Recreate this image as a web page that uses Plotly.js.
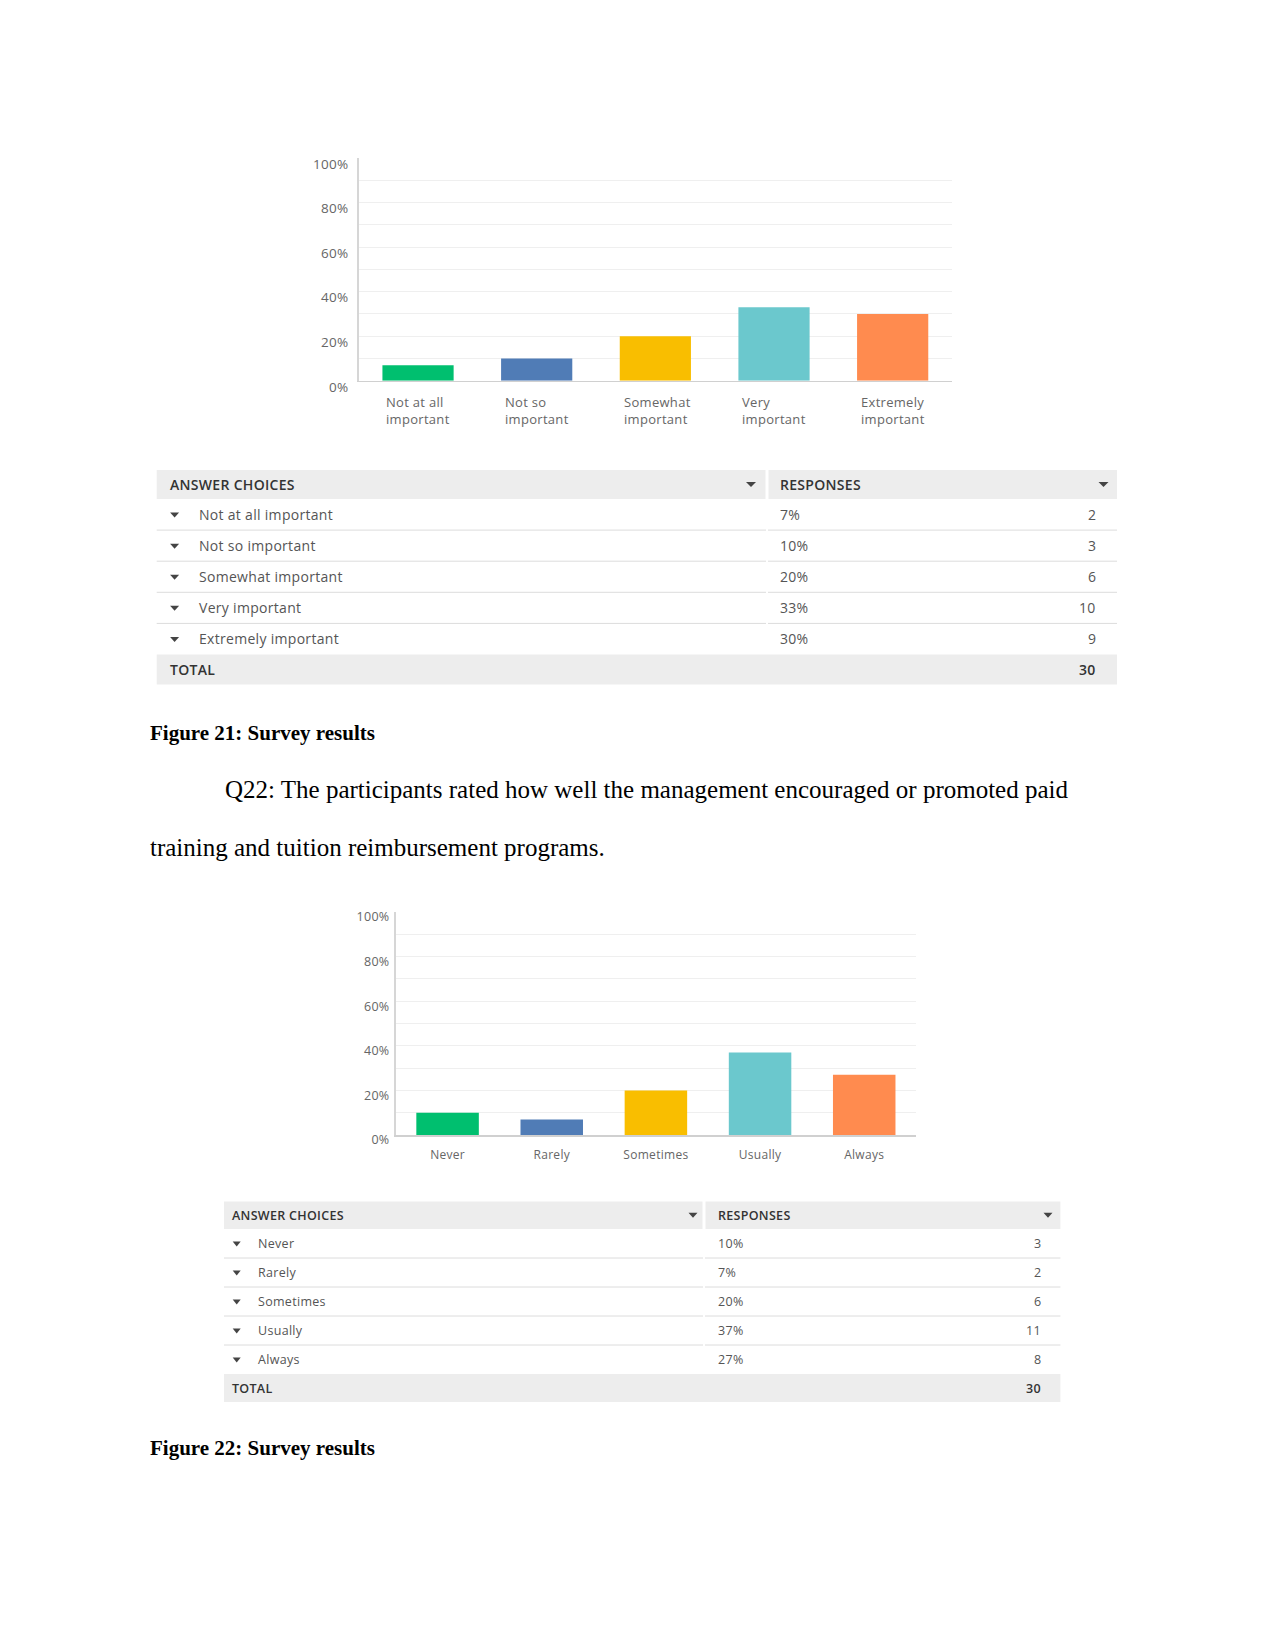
<!DOCTYPE html>
<html><head><meta charset="utf-8">
<script src="https://cdn.plot.ly/plotly-3.0.1.min.js"></script>
<style>
html,body{margin:0;padding:0;background:#fff;}
#page{width:1275px;height:1650px;}
text[style*="Open Sans"]{letter-spacing:0.3px;}
</style>
</head><body><div id="page"></div>
<script>
// ---------- data ----------
const categories1 = ['Not at all important','Not so important','Somewhat important','Very important','Extremely important'];
const percents1 = [7, 10, 20, 33, 30];
const counts1 = [2, 3, 6, 10, 9];
const total1 = 30;

const categories2 = ['Never','Rarely','Sometimes','Usually','Always'];
const percents2 = [10, 7, 20, 37, 27];
const counts2 = [3, 2, 6, 11, 8];
const total2 = 30;

const barColors = ['#00bf6f','#507cb6','#f9be00','#6bc8cd','#ff8b4f'];
const yTickVals = [0,10,20,30,40,50,60,70,80,90,100];
const yTickText = ['0%','','20%','','40%','','60%','','80%','','100%'];

const tableHeaders = ['ANSWER CHOICES','RESPONSES'];
const totalLabel = 'TOTAL';
const caption1 = 'Figure 21: Survey results';
const caption2 = 'Figure 22: Survey results';
const bodyLine1 = 'Q22: The participants rated how well the management encouraged or promoted paid';
const bodyLine2 = 'training and tuition reimbursement programs.';

// ---------- helpers ----------
const W = 1275, H = 1650;
const px = x => x / W;
const py = y => 1 - y / H;
const SANS = '"Open Sans", Roboto, sans-serif';
const SERIF = '"Liberation Serif", "Times New Roman", serif';

const shapes = [];
const annotations = [];

function rect(x0, y0, x1, y1, color) {
  shapes.push({type:'rect', xref:'paper', yref:'paper', x0:px(x0), x1:px(x1), y0:py(y1), y1:py(y0),
    fillcolor:color, line:{width:0}, layer:'below'});
}
function hline(x0, x1, y, color) {
  shapes.push({type:'line', xref:'paper', yref:'paper', x0:px(x0), x1:px(x1), y0:py(y), y1:py(y),
    line:{color:color, width:1}});
}
function tri(cx, cy, w, h, color) {
  const p = `M${px(cx-w/2)},${py(cy-h/2)} L${px(cx+w/2)},${py(cy-h/2)} L${px(cx)},${py(cy+h/2)} Z`;
  shapes.push({type:'path', xref:'paper', yref:'paper', path:p, fillcolor:color, line:{width:0}});
}
function text(t, x, y, opts) {
  annotations.push(Object.assign({xref:'paper', yref:'paper', x:px(x), y:py(y), text:t, showarrow:false,
    xanchor:'left', yanchor:'middle'}, opts));
}

function makeTable(c, cats, pcts, cnts, total) {
  const hdrFill = '#ededed';
  rect(c.L, c.hTop, c.div - 1.5, c.hBot, hdrFill);
  rect(c.div + 1.5, c.hTop, c.R, c.hBot, hdrFill);
  const hc = (c.hTop + c.hBot) / 2;
  const hf = {family:SANS, size:c.fs, color:'#333', weight:600};
  text(tableHeaders[0], c.textL, hc, {font:hf});
  text(tableHeaders[1], c.pctX, hc, {font:hf});
  tri(c.hTri1, hc, c.tw + 1, c.th, '#444');
  tri(c.hTri2, hc, c.tw + 1, c.th, '#444');
  const rf = {family:SANS, size:c.fs, color:'#555'};
  for (let i = 0; i < cats.length; i++) {
    const top = c.hBot + i * c.rh;
    const cy = top + c.rh / 2;
    tri(c.rowTri, cy + 0.5, c.tw, c.th, '#444');
    text(cats[i], c.rowText, cy, {font:rf});
    text(pcts[i] + '%', c.pctX, cy, {font:rf});
    text(String(cnts[i]), c.cntR, cy, {font:rf, xanchor:'right'});
    if (i < cats.length - 1) {
      hline(c.L, c.div - 1, top + c.rh, '#dcdcdc');
      hline(c.div + 1, c.R, top + c.rh, '#dcdcdc');
    }
  }
  const tTop = c.hBot + cats.length * c.rh;
  rect(c.L, tTop, c.R, tTop + c.rh - 1, hdrFill);
  const tc = tTop + (c.rh - 1) / 2;
  text(totalLabel, c.textL, tc, {font:hf});
  text(String(total), c.cntR, tc, {font:hf, xanchor:'right'});
}

// ---------- tables ----------
makeTable({L:156.7, R:1117, div:767, hTop:470, hBot:499, rh:31.1, textL:167.5, pctX:777.5,
  hTri1:751, hTri2:1103.5, rowTri:174.6, rowText:197, cntR:1098, fs:14, tw:9, th:5},
  categories1, percents1, counts1, total1);
makeTable({L:224, R:1060.4, div:704, hTop:1201.4, hBot:1229, rh:29, textL:229.5, pctX:715.5,
  hTri1:693, hTri2:1048, rowTri:236.7, rowText:256, cntR:1043, fs:12.5, tw:8, th:5},
  categories2, percents2, counts2, total2);

// ---------- chart 1 x labels (left aligned two-line) ----------
categories1.forEach((c, i) => {
  const k = c.lastIndexOf(' ');
  annotations.push({xref:'x', yref:'paper', x:i - 0.3, y:py(391), xanchor:'left', yanchor:'top',
    xshift:2, align:'left', showarrow:false,
    text:c.slice(0, k) + '<br>' + c.slice(k + 1),
    font:{family:SANS, size:13, color:'#666'}});
});

// ---------- captions & body text ----------
text(caption1, 148, 733, {font:{family:SERIF, size:21, color:'#000', weight:'bold'}});
text(bodyLine1, 223, 789, {font:{family:SERIF, size:25, color:'#000'}});
text(bodyLine2, 148, 847, {font:{family:SERIF, size:25, color:'#000'}});
text(caption2, 148, 1448, {font:{family:SERIF, size:21, color:'#000', weight:'bold'}});

// ---------- traces ----------
const traces = [
  {type:'bar', x:categories1, y:percents1, xaxis:'x', yaxis:'y', marker:{color:barColors}, hoverinfo:'skip'},
  {type:'bar', x:categories2, y:percents2, xaxis:'x2', yaxis:'y2', marker:{color:barColors}, hoverinfo:'skip'}
];

const yCommon = {range:[0,100], tickvals:yTickVals, ticktext:yTickText, showgrid:true, gridcolor:'#efefef',
  gridwidth:1, showline:true, linecolor:'#d6d6d6', linewidth:1.5, zeroline:false, ticks:'', fixedrange:true};

const layout = {
  width:W, height:H, margin:{l:0, r:0, t:0, b:0}, paper_bgcolor:'#fff', plot_bgcolor:'#fff',
  showlegend:false, bargap:0.4, font:{family:SANS},
  xaxis:{domain:[px(358.7), px(952)], anchor:'y', type:'category', range:[-0.5,4.5], showgrid:false,
    showline:true, linecolor:'#d0d0d0', linewidth:1.5, showticklabels:false, zeroline:false, ticks:'', fixedrange:true},
  yaxis:Object.assign({}, yCommon, {domain:[py(380.8), py(157.8)], anchor:'x',
    tickfont:{family:SANS, size:13.5, color:'#666'}, ticklabelshift:6, ticklabelstandoff:6}),
  xaxis2:{domain:[px(395.5), px(916.3)], anchor:'y2', type:'category', range:[-0.5,4.5], showgrid:false,
    showline:true, linecolor:'#d0d0d0', linewidth:1.5, zeroline:false, ticks:'', fixedrange:true,
    tickfont:{family:SANS, size:12, color:'#666'}, ticklabelstandoff:8},
  yaxis2:Object.assign({}, yCommon, {domain:[py(1135), py(912)], anchor:'x2',
    tickfont:{family:SANS, size:12.5, color:'#666'}, ticklabelshift:5, ticklabelstandoff:2}),
  shapes:shapes, annotations:annotations
};

Plotly.newPlot('page', traces, layout, {staticPlot:true, displayModeBar:false});
</script>
</body></html>
